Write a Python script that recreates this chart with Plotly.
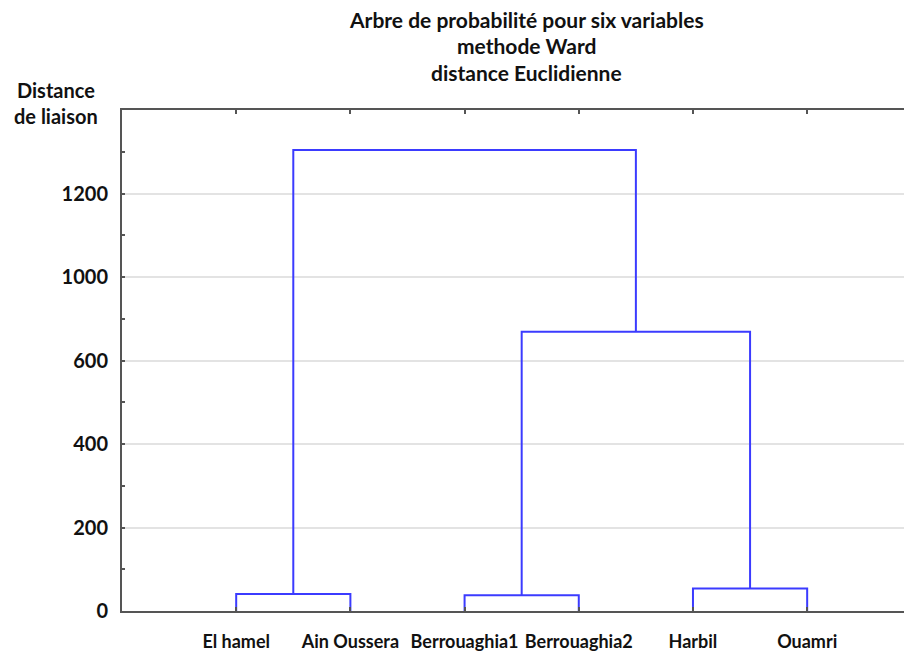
import plotly.graph_objects as go

# ---- data ----
leaves = ["El hamel", "Ain Oussera", "Berrouaghia1", "Berrouaghia2", "Harbil", "Ouamri"]
# linkage: (node_a, node_b, height); leaves are 0..5, new nodes 6..
links = [
    (0, 1, 41),     # node 6
    (2, 3, 38),     # node 7
    (4, 5, 54),     # node 8
    (7, 8, 669),    # node 9
    (6, 9, 1104),   # node 10
]
ytick_vals = [0, 200, 400, 600, 800, 1000]
ytick_text = ["0", "200", "400", "600", "1000", "1200"]

# ---- build dendrogram segments ----
pos = {i: (i + 1, 0) for i in range(len(leaves))}
xs, ys = [], []
nid = len(leaves)
for a, b, h in links:
    xa, ya = pos[a]
    xb, yb = pos[b]
    xs += [xa, xa, xb, xb, None]
    ys += [ya, h, h, yb, None]
    pos[nid] = ((xa + xb) / 2, h)
    nid += 1

FONT = "Lato"
BLUE = "#3b3bff"
AX = "#555555"
TXT = "#111111"
FS = 20

fig = go.Figure()
fig.add_trace(go.Scatter(x=xs, y=ys, mode="lines",
                         line=dict(color=BLUE, width=2),
                         hoverinfo="skip", showlegend=False))

fig.update_layout(
    width=912, height=653,
    margin=dict(l=114, r=8, t=102, b=50),
    paper_bgcolor="white", plot_bgcolor="white",
    font=dict(family=FONT, size=FS, color=TXT, weight="bold"),
    xaxis=dict(
        range=[0, 6.918], tickmode="array",
        tickvals=list(range(1, len(leaves) + 1)), ticktext=leaves,
        ticks="inside", ticklen=4, tickcolor=AX, tickwidth=2,
        showline=True, linecolor=AX, linewidth=2, mirror="ticks",
        showgrid=False, zeroline=False, ticklabelstandoff=13,
        tickangle=0, automargin=False,
        tickfont=dict(family=FONT, size=18, weight="bold", color=TXT),
    ),
    yaxis=dict(
        range=[0, 1200], tickmode="array",
        tickvals=ytick_vals, ticktext=ytick_text,
        ticks="inside", ticklen=3, tickcolor=AX, tickwidth=2,
        minor=dict(dtick=100, ticks="inside", ticklen=3, tickcolor=AX, showgrid=False),
        showline=True, linecolor=AX, linewidth=2,
        showgrid=True, gridcolor="#e3e3e3", gridwidth=1.5, zeroline=False,
        ticklabelstandoff=8, automargin=False,
        tickfont=dict(family=FONT, size=FS, weight="bold", color=TXT),
    ),
)

titles = ["Arbre de probabilité pour six variables", "methode Ward", "distance Euclidienne"]
for i, t in enumerate(titles):
    fig.add_annotation(text=t, xref="paper", yref="paper",
                       x=(526 - 122) / 790, y=1 + (110 - (20 + 26 * i)) / 501,
                       xanchor="center", yanchor="middle", showarrow=False,
                       font=dict(family=FONT, size=21, weight="bold", color=TXT))

for i, t in enumerate(["Distance", "de liaison"]):
    fig.add_annotation(text=t, xref="paper", yref="paper",
                       x=(56 - 122) / 790, y=1 + (110 - (90 + 26 * i)) / 501,
                       xanchor="center", yanchor="middle", showarrow=False,
                       font=dict(family=FONT, size=FS, weight="bold", color=TXT))

fig.write_html("out.html")
